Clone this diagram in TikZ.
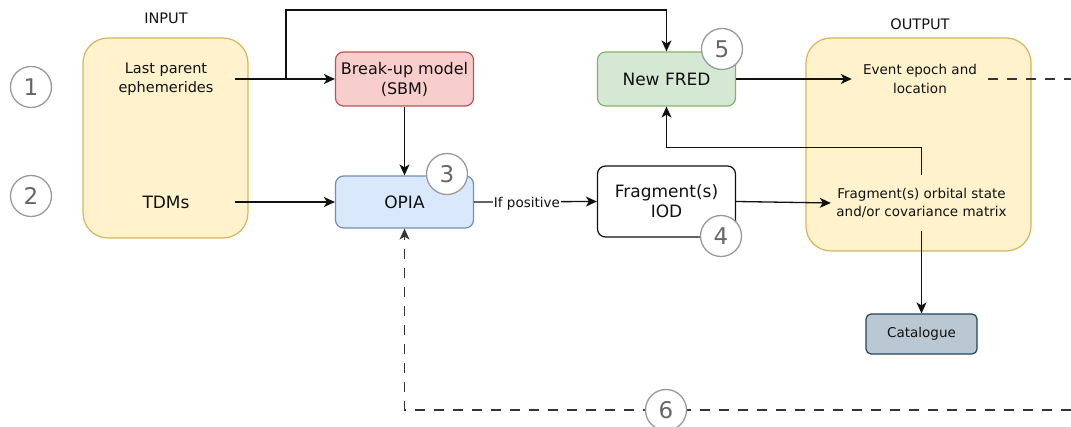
\documentclass[tikz,border=0pt]{standalone}
\usepackage{fontspec}
\setmainfont{DejaVu Sans}
\usetikzlibrary{arrows.meta}

\definecolor{ioFill}{HTML}{FFF2CC}
\definecolor{ioDraw}{HTML}{D6B656}
\definecolor{sbmFill}{HTML}{F8CECC}
\definecolor{sbmDraw}{HTML}{B85450}
\definecolor{opiaFill}{HTML}{DAE8FC}
\definecolor{opiaDraw}{HTML}{6C8EBF}
\definecolor{fredFill}{HTML}{D5E8D4}
\definecolor{fredDraw}{HTML}{82B366}
\definecolor{catFill}{HTML}{BAC8D3}
\definecolor{catDraw}{HTML}{23445D}
\definecolor{numDraw}{HTML}{999999}
\definecolor{numText}{HTML}{666666}
\definecolor{ink}{HTML}{111111}

\tikzset{
  panel/.style={draw=ioDraw, fill=ioFill, line width=1.2pt, rounded corners=25pt},
  stepbox/.style={draw, line width=1.2pt, rounded corners=8pt, align=center,
    minimum width=138pt, minimum height=54pt, font=\fontsize{17}{20}\selectfont, text=ink},
  plain/.style={align=center, inner sep=0pt, text=ink},
  numcirc/.style={circle, draw=numDraw, fill=white, line width=1.3pt, minimum size=41pt,
    inner sep=0pt, text=numText, font=\fontsize{23}{23}\selectfont},
  tip/.style={-{Stealth[length=11pt,width=10pt,inset=3pt]}},
  arr/.style={line width=1.3pt, draw=ink, tip},
  dashline/.style={line width=1.3pt, draw=ink!85, dash pattern=on 10pt off 9pt}
}

\begin{document}
\begin{tikzpicture}[x=1pt,y=-1pt]
\useasboundingbox (0,0) rectangle (1071,427);

% input and output panels
\node[panel, minimum width=165pt, minimum height=200pt] (inpanel) at (165.5,138) {};
\node[panel, minimum width=225pt, minimum height=213pt] (outpanel) at (918.5,144.5) {};
\node[plain, font=\fontsize{14.5}{16}\selectfont] (inlabel) at (166,18) {INPUT};
\node[plain, font=\fontsize{14.5}{16}\selectfont] (outlabel) at (920,24) {OUTPUT};

% panel contents
\node[plain, font=\fontsize{14.5}{19}\selectfont, minimum width=138pt] (lastpar) at (166,79)
  {Last parent\\ephemerides};
\node[plain, font=\fontsize{17}{20}\selectfont, minimum width=138pt] (tdms) at (166,202) {TDMs};
\node[plain, font=\fontsize{13.5}{18.5}\selectfont, minimum width=136pt] (event) at (920,79)
  {Event epoch and\\location};
\node[plain, font=\fontsize{13.5}{18.5}\selectfont, minimum width=181pt, minimum height=56pt] (fos) at (921.5,203)
  {Fragment(s) orbital state\\and/or covariance matrix};

% process boxes
\node[stepbox, draw=sbmDraw, fill=sbmFill, font=\fontsize{16}{20}\selectfont] (sbm) at (404.5,79)
  {Break-up model\\(SBM)};
\node[stepbox, draw=opiaDraw, fill=opiaFill, minimum height=52pt] (opia) at (404.5,202) {OPIA};
\node[stepbox, draw=fredDraw, fill=fredFill] (fred) at (666.5,79) {New FRED};
\node[stepbox, draw=ink, fill=white, minimum height=71pt] (frag) at (666.5,201.5)
  {Fragment(s)\\IOD};
\node[stepbox, draw=catDraw, fill=catFill, minimum width=111pt, minimum height=40pt,
  rounded corners=5pt, font=\fontsize{13.5}{15}\selectfont] (cat) at (921.5,334) {Catalogue};

% connectors
\coordinate (split) at (286,79);
\draw[arr] (lastpar.east) -- (sbm.west);
\draw[arr] (split) -- (split |- 0,10) -| (fred.north);
\draw[arr] (sbm.south) -- (opia.north);
\draw[arr] (tdms.east) -- (opia.west);
\draw[arr] (opia.east) -- node[pos=0.43, fill=white, inner sep=1pt, text=ink,
  font=\fontsize{13.5}{15}\selectfont, yshift=-2pt] (ifpos) {If positive} (frag.west);
\draw[arr] (frag.east) -- (fos.west);
\draw[arr] (fred.east) -- (event.west);
\draw[arr] (fos.north) -- ++(0,-27) -| (fred.south);
\draw[arr] (fos.south) -- (cat.north);

% dashed feedback loop leaving the frame
\coordinate (edgeR) at (1071,79);
\coordinate (edgeB) at (1071,410);
\draw[dashline] (event.east) -- (edgeR);
\draw[dashline, tip] (edgeB) -| (opia.south);

% step numbers
\node[numcirc] (n1) at (31,87) {1};
\node[numcirc] (n2) at (31,196) {2};
\node[numcirc] (n3) at (447,174) {3};
\node[numcirc] (n4) at (721,236) {4};
\node[numcirc] (n5) at (722,49) {5};
\node[numcirc] (n6) at (666,410) {6};
\end{tikzpicture}
\end{document}
